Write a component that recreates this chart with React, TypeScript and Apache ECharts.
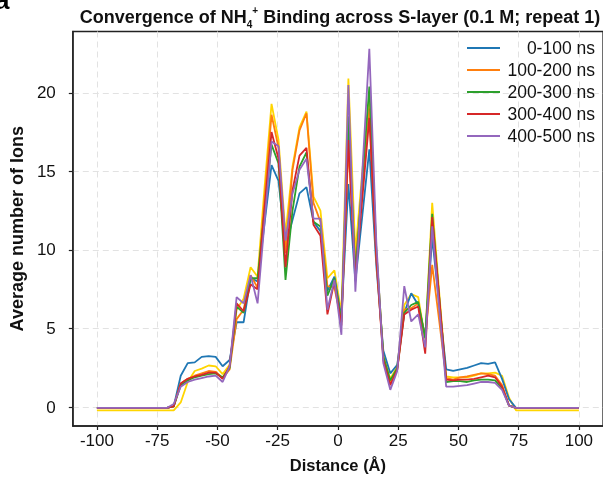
import React, { useEffect, useRef } from "react";
import * as echarts from "echarts";

const distance = [-100, -97.1, -94.2, -91.3, -88.41, -85.51, -82.61, -79.71, -76.81, -73.91, -71.01, -68.12, -65.22, -62.32, -59.42, -56.52, -53.62, -50.72, -47.83, -44.93, -42.03, -39.13, -36.23, -33.33, -30.43, -27.54, -24.64, -21.74, -18.84, -15.94, -13.04, -10.14, -7.25, -4.35, -1.45, 1.45, 4.35, 7.25, 10.14, 13.04, 15.94, 18.84, 21.74, 24.64, 27.54, 30.43, 33.33, 36.23, 39.13, 42.03, 44.93, 47.83, 50.72, 53.62, 56.52, 59.42, 62.32, 65.22, 68.12, 71.01, 73.91, 76.81, 79.71, 82.61, 85.51, 88.41, 91.3, 94.2, 97.1, 100];

const s0_100 = [-0.05, -0.05, -0.05, -0.05, -0.05, -0.05, -0.05, -0.05, -0.05, -0.05, -0.05, 0.05, 2.0, 2.8, 2.85, 3.2, 3.25, 3.2, 2.6, 3.0, 5.4, 5.4, 8.2, 8.0, 11.7, 15.4, 14.4, 10.2, 11.9, 13.6, 14.0, 11.8, 11.2, 7.4, 8.3, 5.7, 14.2, 8.0, 12.2, 16.4, 9.0, 3.6, 2.15, 2.7, 6.0, 7.25, 6.5, 4.5, 10.8, 6.5, 2.4, 2.3, 2.4, 2.5, 2.65, 2.8, 2.75, 2.85, 1.8, 0.5, -0.05, -0.05, -0.05, -0.05, -0.05, -0.05, -0.05, -0.05, -0.05, -0.05];
const s100_200 = [-0.05, -0.05, -0.05, -0.05, -0.05, -0.05, -0.05, -0.05, -0.05, -0.05, -0.05, 0.05, 1.5, 1.8, 2.0, 2.15, 2.3, 2.25, 1.85, 2.4, 5.6, 6.2, 8.4, 7.6, 13.3, 18.6, 16.5, 9.8, 15.1, 17.6, 18.7, 13.0, 11.8, 7.7, 7.6, 5.5, 16.5, 9.0, 14.0, 19.0, 9.5, 3.2, 1.6, 2.4, 6.2, 6.3, 6.6, 4.4, 9.05, 5.5, 1.85, 1.75, 1.9, 1.95, 2.05, 2.15, 2.1, 2.0, 1.4, 0.1, -0.05, -0.05, -0.05, -0.05, -0.05, -0.05, -0.05, -0.05, -0.05, -0.05];
const s200_300 = [-0.05, -0.05, -0.05, -0.05, -0.05, -0.05, -0.05, -0.05, -0.05, -0.05, -0.05, 0.05, 1.4, 1.7, 1.9, 2.0, 2.1, 2.15, 1.9, 2.5, 6.4, 6.0, 8.2, 8.2, 12.5, 16.7, 15.5, 8.1, 12.5, 15.3, 16.2, 11.8, 11.5, 7.1, 8.2, 5.4, 18.5, 8.5, 14.5, 20.4, 10.0, 3.2, 1.7, 2.5, 6.0, 6.5, 6.7, 4.4, 12.3, 7.0, 1.6, 1.65, 1.65, 1.6, 1.7, 1.75, 1.75, 1.7, 1.2, 0.1, -0.05, -0.05, -0.05, -0.05, -0.05, -0.05, -0.05, -0.05, -0.05, -0.05];
const s300_400 = [-0.05, -0.05, -0.05, -0.05, -0.05, -0.05, -0.05, -0.05, -0.05, -0.05, -0.05, 0.05, 1.5, 1.8, 1.95, 2.05, 2.2, 2.2, 1.8, 2.6, 6.6, 6.1, 7.8, 7.5, 12.7, 17.5, 15.8, 8.9, 13.8, 16.0, 16.5, 11.6, 10.9, 5.9, 8.0, 5.2, 17.0, 8.2, 13.3, 18.4, 9.5, 3.0, 1.4, 2.4, 5.9, 6.2, 6.4, 3.4, 12.1, 7.0, 1.75, 1.7, 1.75, 1.75, 1.8, 1.9, 2.0, 1.9, 1.3, 0.1, -0.05, -0.05, -0.05, -0.05, -0.05, -0.05, -0.05, -0.05, -0.05, -0.05];
const s400_500 = [-0.05, -0.05, -0.05, -0.05, -0.05, -0.05, -0.05, -0.05, -0.05, -0.05, -0.05, 0.2, 1.3, 1.6, 1.75, 1.85, 1.95, 2.0, 1.6, 2.6, 7.0, 6.6, 8.4, 6.6, 11.8, 16.9, 16.6, 10.6, 13.6, 15.1, 15.8, 12.0, 12.0, 6.2, 8.1, 4.6, 20.5, 7.35, 15.0, 22.8, 10.5, 2.8, 1.1, 2.3, 7.7, 5.45, 5.9, 3.8, 11.5, 6.3, 1.3, 1.3, 1.35, 1.4, 1.5, 1.6, 1.6, 1.55, 1.1, 0.1, -0.05, -0.05, -0.05, -0.05, -0.05, -0.05, -0.05, -0.05, -0.05, -0.05];
const sExtra = [-0.2, -0.2, -0.2, -0.2, -0.2, -0.2, -0.2, -0.2, -0.2, -0.2, -0.2, -0.2, 0.3, 1.6, 2.3, 2.45, 2.65, 2.6, 2.1, 2.7, 6.2, 6.9, 8.9, 8.3, 14.0, 19.3, 17.0, 11.0, 15.3, 17.8, 18.8, 13.4, 12.5, 8.2, 8.7, 6.0, 20.9, 9.8, 15.0, 19.8, 10.0, 3.3, 1.8, 2.6, 6.5, 7.2, 7.0, 4.3, 13.0, 7.3, 1.95, 1.9, 1.9, 1.9, 2.0, 2.15, 2.15, 2.2, 2.0, 0.6, -0.2, -0.2, -0.2, -0.2, -0.2, -0.2, -0.2, -0.2, -0.2, -0.2];

const legendNames = ["0-100 ns", "100-200 ns", "200-300 ns", "300-400 ns", "400-500 ns"];
const xTicks = [-100, -75, -50, -25, 0, 25, 50, 75, 100];
const yTicks = [0, 5, 10, 15, 20];

const FONT = "'Liberation Sans', Arial, Helvetica, sans-serif";

export default function App() {
  const ref = useRef<HTMLDivElement>(null);
  useEffect(() => {
    if (!ref.current) return;
    const chart = echarts.init(ref.current, null, { renderer: "svg" });
    const mk = (name: string, vals: number[], color: string) => ({
      name,
      type: "line",
      data: distance.map((x, i) => [x, vals[i]]),
      symbol: "none",
      showSymbol: false,
      lineStyle: { color, width: 1.8 },
      itemStyle: { color },
      z: 2,
    });
    const series = [
      mk("extra", sExtra, "#ffd500"),
      mk(legendNames[0], s0_100, "#1f77b4"),
      mk(legendNames[1], s100_200, "#ff7f0e"),
      mk(legendNames[2], s200_300, "#2ca02c"),
      mk(legendNames[3], s300_400, "#d62728"),
      mk(legendNames[4], s400_500, "#9467bd"),
    ];
    chart.setOption({
      animation: false,
      textStyle: { fontFamily: FONT },
      title: {
        text: "{t|Convergence of NH}{sub|4}{sup|+}{t| Binding across S-layer (0.1 M; repeat 1)}",
        left: 335,
        top: 0,
        textAlign: "center",
        textStyle: {
          rich: {
            t: { fontSize: 18, fontWeight: "bold", color: "#111", fontFamily: FONT, lineHeight: 24, verticalAlign: "middle" },
            sub: { fontSize: 10, fontWeight: "bold", color: "#111", fontFamily: FONT, lineHeight: 10, verticalAlign: "bottom" },
            sup: { fontSize: 10, fontWeight: "bold", color: "#111", fontFamily: FONT, lineHeight: 12, verticalAlign: "top" },
          },
        },
      },
      graphic: [
        { type: "text", left: -5, top: -13, style: { text: "a", font: "bold 26px " + FONT, fill: "#000" } },
      ],
      grid: {
        left: 69,
        top: 31.5,
        width: 534.6,
        height: 394.5,
        show: true,
        borderColor: "#222",
        borderWidth: 1.3,
        backgroundColor: "#fff",
      },
      legend: {
        data: legendNames,
        orient: "vertical",
        left: 462,
        top: 34,
        icon: "rect",
        itemWidth: 33,
        itemHeight: 2,
        itemGap: 4,
        itemTextGap: 5,
        formatter: "{a|{name}}",
        textStyle: {
          fontSize: 17.5,
          color: "#111",
          fontFamily: FONT,
          rich: { a: { width: 90, align: "right", fontSize: 17.5, color: "#111", fontFamily: FONT } },
        },
      },
      xAxis: {
        type: "value",
        min: -110,
        max: 110,
        name: "Distance (Å)",
        nameLocation: "middle",
        nameGap: 30,
        nameTextStyle: { fontWeight: "bold", fontSize: 16.5, color: "#111", fontFamily: FONT },
        axisLine: { show: true, onZero: false, lineStyle: { color: "#222", width: 1.5 } },
        axisTick: { show: true, inside: false, length: 4, customValues: xTicks, lineStyle: { color: "#222", width: 1.2 } },
        axisLabel: { customValues: xTicks, fontSize: 17, color: "#111", margin: 6, fontFamily: FONT },
        splitLine: { show: true, lineStyle: { type: [6, 4], color: "#e2e2e2", width: 1 } },
      },
      yAxis: {
        type: "value",
        min: -1.2,
        max: 23.9,
        name: "Average number of Ions",
        nameLocation: "middle",
        nameRotate: 90,
        nameGap: 42,
        nameTextStyle: { fontWeight: "bold", fontSize: 18, color: "#111", fontFamily: FONT },
        axisLine: { show: true, onZero: false, lineStyle: { color: "#222", width: 1.5 } },
        axisTick: { show: true, inside: false, length: 4, customValues: yTicks, lineStyle: { color: "#222", width: 1.2 } },
        axisLabel: { customValues: yTicks, fontSize: 17, color: "#111", margin: 17, fontFamily: FONT },
        splitLine: { show: true, lineStyle: { type: [6, 4], color: "#e2e2e2", width: 1 } },
      },
      series,
    });
    return () => chart.dispose();
  }, []);
  return <div ref={ref} style={{ position: "fixed", left: 0, top: 0, width: 603, height: 483 }} />;
}
